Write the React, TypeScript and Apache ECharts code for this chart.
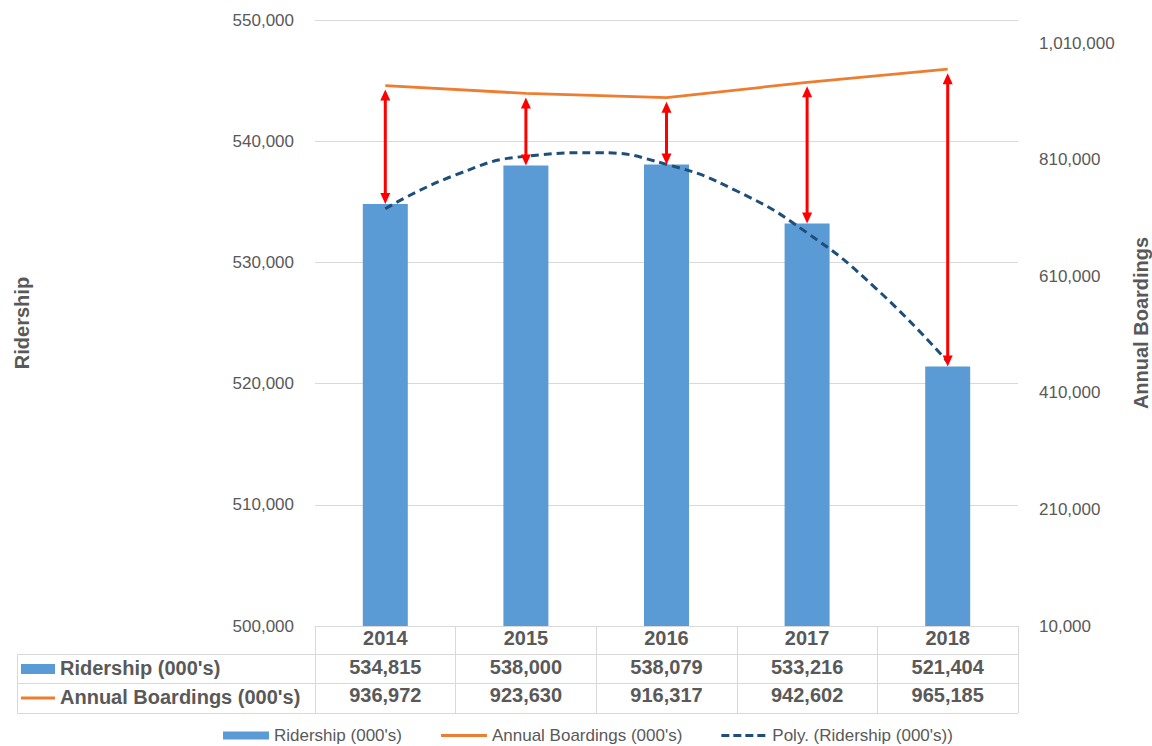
import React, { useEffect, useRef } from 'react';
import * as echarts from 'echarts';

// ---- data ----
const years = ['2014', '2015', '2016', '2017', '2018'];
const ridership = [534815, 538000, 538079, 533216, 521404];
const boardings = [936972, 923630, 916317, 942602, 965185];
// polynomial trend line (x = category index)
const trendX = [0, 0.5, 1, 1.5, 2, 2.5, 3, 3.5, 4];
const trendY = [534430, 537220, 538760, 539050, 538090, 535890, 532440, 527740, 521790];

// axis scales
const leftMin = 500000;
const leftMax = 550000;
const leftStep = 10000;
const rightMin = 10000;
const rightMax = 1049500;
const rightStep = 200000;

const NAME_RIDE = "Ridership (000's)";
const NAME_BOARD = "Annual Boardings (000's)";
const NAME_POLY = "Poly. (Ridership (000's))";

const FONT = '"Liberation Sans", Arial, sans-serif';
const GREY = '#595959';
const BORDER = '#D9D9D9';
const BLUE = '#5B9BD5';
const ORANGE = '#ED7D31';
const NAVY = '#1F4E79';
const RED = '#FF0000';

// legend icons, all in a 46 x 8 box
const ICON_BAR = 'path://M0,0h46v8h-46z';
const ICON_LINE = 'path://M0,0L0,0M0,2.5h46v3h-46zM46,8L46,8';
const ICON_DASH = 'path://M0,0L0,0M0,2.5h8v3h-8zM12,2.5h8v3h-8zM24,2.5h8v3h-8zM36,2.5h8v3h-8zM46,8L46,8';

const fmt = (v: number) => Math.round(v).toLocaleString('en-US');

export default function App() {
  const ref = useRef<HTMLDivElement>(null);

  useEffect(() => {
    document.body.style.margin = '0';
    const chart = echarts.init(ref.current!, null, { renderer: 'svg' });
    const option: any = {
      animation: false,
      backgroundColor: '#ffffff',
      textStyle: { fontFamily: FONT },
      grid: {
        left: 315,
        right: 134,
        top: 20,
        bottom: 120,
        containLabel: false,
        outerBoundsMode: 'none',
      },
      legend: {
        left: 223,
        top: 727,
        padding: 0,
        itemWidth: 46,
        itemHeight: 8,
        itemGap: 39,
        textStyle: { fontSize: 17, color: GREY, fontFamily: FONT },
        data: [
          { name: NAME_RIDE, icon: ICON_BAR },
          { name: NAME_BOARD, icon: ICON_LINE },
          { name: NAME_POLY, icon: ICON_DASH },
        ],
      },
      xAxis: [
        {
          type: 'category',
          data: years,
          axisLine: { lineStyle: { color: BORDER, width: 1 } },
          axisTick: { show: true, interval: 0, length: 87, lineStyle: { color: BORDER, width: 1 } },
          axisLabel: {
            interval: 0,
            margin: -2,
            fontSize: 20,
            fontWeight: 'bold',
            color: GREY,
            lineHeight: 28.5,
            fontFamily: FONT,
            formatter: (val: string, idx: number) =>
              `${val}\n${fmt(ridership[idx])}\n${fmt(boardings[idx])}`,
          },
        },
        { type: 'value', min: -0.5, max: 4.5, show: false },
      ],
      yAxis: [
        {
          type: 'value',
          min: leftMin,
          max: leftMax,
          interval: leftStep,
          name: 'Ridership',
          nameLocation: 'middle',
          nameGap: 283,
          nameRotate: 90,
          nameTextStyle: { fontSize: 20, fontWeight: 'bold', color: GREY, fontFamily: FONT },
          axisLine: { show: false },
          axisTick: { show: false },
          axisLabel: { margin: 21, fontSize: 17, color: GREY, fontFamily: FONT, formatter: fmt },
          splitLine: { lineStyle: { color: BORDER, width: 1 } },
        },
        {
          type: 'value',
          min: rightMin,
          max: rightMax,
          interval: rightStep,
          name: 'Annual Boardings',
          nameLocation: 'middle',
          nameGap: 113,
          nameRotate: 90,
          nameTextStyle: { fontSize: 20, fontWeight: 'bold', color: GREY, fontFamily: FONT },
          axisLine: { show: false },
          axisTick: { show: false },
          axisLabel: {
            margin: 21,
            fontSize: 17,
            color: GREY,
            fontFamily: FONT,
            showMaxLabel: false,
            formatter: (v: number) => ((v - rightMin) % rightStep === 0 ? fmt(v) : ''),
          },
          splitLine: { show: false },
        },
      ],
      series: [
        {
          name: NAME_RIDE,
          type: 'bar',
          data: ridership,
          barWidth: 45,
          itemStyle: { color: BLUE },
          z: 2,
        },
        {
          name: NAME_BOARD,
          type: 'line',
          yAxisIndex: 1,
          data: boardings,
          symbol: 'none',
          lineStyle: { color: ORANGE, width: 2.75 },
          itemStyle: { color: ORANGE },
          z: 4,
        },
        {
          name: NAME_POLY,
          type: 'line',
          xAxisIndex: 1,
          yAxisIndex: 0,
          data: trendX.map((x, i) => [x, trendY[i]]),
          smooth: true,
          symbol: 'none',
          lineStyle: { color: NAVY, width: 3, type: [8, 5] },
          itemStyle: { color: NAVY },
          z: 3,
        },
      ],
    };
    chart.setOption(option);

    // ---- table frame (left header column and row separators) ----
    const tableLeft = 17;
    const plotRight = 1018;
    const rowLines = [654.5, 683.5, 713.5];
    const graphics: any[] = [];
    rowLines.forEach((y) =>
      graphics.push({
        type: 'line',
        shape: { x1: tableLeft, y1: y, x2: plotRight, y2: y },
        style: { stroke: BORDER, lineWidth: 1 },
        z: 5,
      })
    );
    graphics.push({
      type: 'line',
      shape: { x1: tableLeft + 0.5, y1: rowLines[0], x2: tableLeft + 0.5, y2: rowLines[2] },
      style: { stroke: BORDER, lineWidth: 1 },
      z: 5,
    });
    graphics.push({
      type: 'rect',
      shape: { x: 21, y: 664, width: 34, height: 10 },
      style: { fill: BLUE },
      z: 5,
    });
    graphics.push({
      type: 'line',
      shape: { x1: 21, y1: 698, x2: 55, y2: 698 },
      style: { stroke: ORANGE, lineWidth: 3 },
      z: 5,
    });
    graphics.push({
      type: 'text',
      x: 60,
      y: 668,
      style: {
        text: NAME_RIDE,
        fill: GREY,
        font: `bold 20px ${FONT}`,
        verticalAlign: 'middle',
        align: 'left',
      },
      z: 5,
    });
    graphics.push({
      type: 'text',
      x: 60,
      y: 697,
      style: {
        text: NAME_BOARD,
        fill: GREY,
        font: `bold 20px ${FONT}`,
        verticalAlign: 'middle',
        align: 'left',
      },
      z: 5,
    });

    // ---- red double-headed arrows from the boardings line to the bar tops ----
    const head = 11;
    const half = 5;
    years.forEach((yr, i) => {
      const top = chart.convertToPixel({ xAxisIndex: 0, yAxisIndex: 1 } as any, [i, boardings[i]]) as number[];
      const bot = chart.convertToPixel({ xAxisIndex: 0, yAxisIndex: 0 } as any, [i, ridership[i]]) as number[];
      const x = bot[0];
      const y1 = top[1] + 4;
      const y2 = bot[1];
      graphics.push({
        type: 'line',
        shape: { x1: x, y1: y1 + head - 1, x2: x, y2: y2 - head + 1 },
        style: { stroke: RED, lineWidth: 3 },
        z: 10,
      });
      graphics.push({
        type: 'polygon',
        shape: { points: [[x, y1], [x - half, y1 + head], [x + half, y1 + head]] },
        style: { fill: RED },
        z: 10,
      });
      graphics.push({
        type: 'polygon',
        shape: { points: [[x, y2], [x - half, y2 - head], [x + half, y2 - head]] },
        style: { fill: RED },
        z: 10,
      });
    });

    chart.setOption({ graphic: graphics });

    return () => chart.dispose();
  }, []);

  return <div ref={ref} style={{ width: 1152, height: 746 }} />;
}
